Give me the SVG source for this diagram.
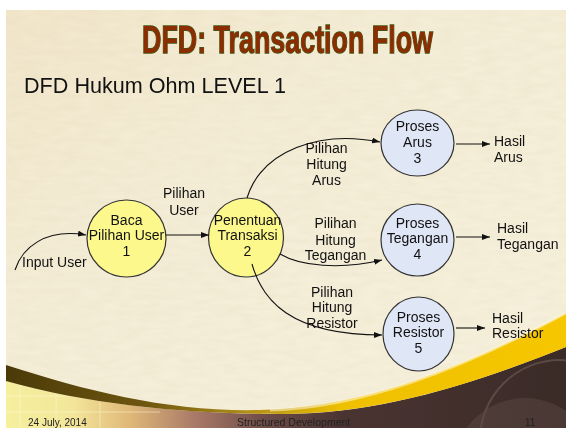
<svg xmlns="http://www.w3.org/2000/svg" width="566" height="428" viewBox="0 0 566 428">
  <defs>
    <style>
      text { font-family: "Liberation Sans", Arial, sans-serif; fill: #111; }
      .title { font-size: 39px; font-weight: bold; fill: #8b2d00; stroke: #3d5a18; stroke-width: 1.4px; paint-order: stroke; }
      .sub { font-size: 21.5px; }
      .lbl { font-size: 14px; text-anchor: middle; }
      .lbl-l { font-size: 14px; }
      .foot { font-size: 10px; fill: #222; }
      .proc-y { fill: #fdf88c; stroke: #333; stroke-width: 1.2; }
      .proc-b { fill: #dfe6f5; stroke: #333; stroke-width: 1.2; }
      .flow { fill: none; stroke: #111; stroke-width: 1.1; marker-end: url(#arrow); }
    </style>
    <marker id="arrow" markerUnits="userSpaceOnUse" markerWidth="9" markerHeight="7" refX="8" refY="3" orient="auto">
      <path d="M0,0 L8,3 L0,6 Z" fill="#111"/>
    </marker>
    <linearGradient id="paper" x1="0" y1="0" x2="1" y2="1">
      <stop offset="0" stop-color="#f3e8cd"/>
      <stop offset="0.35" stop-color="#f6efd9"/>
      <stop offset="1" stop-color="#f8f3e0"/>
    </linearGradient>
    <linearGradient id="base" x1="6" y1="0" x2="566" y2="0" gradientUnits="userSpaceOnUse">
      <stop offset="0" stop-color="#f5ef9e"/>
      <stop offset="0.12" stop-color="#f3e69a"/>
      <stop offset="0.22" stop-color="#e0b878"/>
      <stop offset="0.34" stop-color="#a87868"/>
      <stop offset="0.46" stop-color="#6e4c48"/>
      <stop offset="0.6" stop-color="#4a3432"/>
      <stop offset="1" stop-color="#3a2b27"/>
    </linearGradient>
    <linearGradient id="band" x1="6" y1="0" x2="566" y2="0" gradientUnits="userSpaceOnUse">
      <stop offset="0" stop-color="#4a3a08"/>
      <stop offset="0.25" stop-color="#6e5610"/>
      <stop offset="0.45" stop-color="#b89418"/>
      <stop offset="0.6" stop-color="#eec000"/>
      <stop offset="1" stop-color="#f6c600"/>
    </linearGradient>
    <filter id="grain" x="0" y="0" width="1" height="1">
      <feTurbulence type="fractalNoise" baseFrequency="0.05 0.18" numOctaves="2" seed="4"/>
      <feColorMatrix values="0 0 0 0 0.55  0 0 0 0 0.45  0 0 0 0 0.25  0 0 0 0.14 0"/>
    </filter>
    <clipPath id="baseClip">
      <path d="M6,381 C90,405 190,414 280,414 C380,414 470,385 566,347 L566,428 L6,428 Z"/>
    </clipPath>
  </defs>

  <!-- page and slide backdrop -->
  <rect width="566" height="428" fill="#ffffff"/>
  <rect x="6" y="10" width="560" height="418" fill="url(#paper)"/>
  <rect x="6" y="10" width="560" height="418" filter="url(#grain)"/>

  <!-- lower swoosh decoration -->
  <g id="footer-swoosh">
    <path d="M6,381 C90,405 190,414 280,414 C380,414 470,385 566,347 L566,428 L6,428 Z" fill="url(#base)"/>
    <g clip-path="url(#baseClip)" opacity="0.5">
      <path d="M20,380 V428 M56,390 V428 M100,400 V428 M6,396 H140 M6,412 H160" stroke="#fffbd8" stroke-width="1" fill="none"/>
      <circle cx="525" cy="470" r="72" fill="#6e5a54" opacity="0.6"/>
      <circle cx="560" cy="440" r="80" fill="none" stroke="#7a6660" stroke-width="2"/>
    </g>
    <path d="M6,365 C90,392 170,412 260,410 C360,408 460,370 566,313 L566,347 C470,385 380,414 280,414 C190,414 90,405 6,381 Z" fill="url(#band)"/>
    <path d="M270,410 C360,408 460,370 566,313" fill="none" stroke="#fff8d8" stroke-width="3" opacity="0.55"/>
  </g>

  <!-- headings -->
  <text class="title" x="142" y="53" textLength="291" lengthAdjust="spacingAndGlyphs">DFD: Transaction Flow</text>
  <text class="sub" x="24" y="93" textLength="262" lengthAdjust="spacingAndGlyphs">DFD Hukum Ohm LEVEL 1</text>

  <!-- processes -->
  <g id="p1">
    <ellipse class="proc-y" cx="126.5" cy="238.5" rx="39.5" ry="38.5"/>
    <text class="lbl" x="126.5" y="225">Baca</text>
    <text class="lbl" x="126.5" y="240">Pilihan User</text>
    <text class="lbl" x="126.5" y="256">1</text>
  </g>
  <g id="p2">
    <ellipse class="proc-y" cx="246" cy="237.5" rx="37.5" ry="39.5"/>
    <text class="lbl" x="247.5" y="225">Penentuan</text>
    <text class="lbl" x="247.5" y="240">Transaksi</text>
    <text class="lbl" x="247.5" y="256">2</text>
  </g>
  <g id="p3">
    <ellipse class="proc-b" cx="417.5" cy="143" rx="36.5" ry="33"/>
    <text class="lbl" x="417.5" y="131">Proses</text>
    <text class="lbl" x="417.5" y="147">Arus</text>
    <text class="lbl" x="417.5" y="163">3</text>
  </g>
  <g id="p4">
    <ellipse class="proc-b" cx="417.5" cy="240" rx="36.5" ry="36"/>
    <text class="lbl" x="417.5" y="228">Proses</text>
    <text class="lbl" x="417.5" y="243">Tegangan</text>
    <text class="lbl" x="417.5" y="259">4</text>
  </g>
  <g id="p5">
    <ellipse class="proc-b" cx="418.5" cy="334" rx="35.5" ry="37"/>
    <text class="lbl" x="418.5" y="322">Proses</text>
    <text class="lbl" x="418.5" y="337">Resistor</text>
    <text class="lbl" x="418.5" y="353">5</text>
  </g>

  <!-- data flows -->
  <g id="flows">
    <path class="flow" d="M15,270 C22,248 45,228 86,235"/>
    <path class="flow" d="M166,235 L209,235"/>
    <path class="flow" d="M247,198 C262,150 320,130 380,142"/>
    <path class="flow" d="M280,254 C300,266 340,270 382,260"/>
    <path class="flow" d="M252,264 C262,300 290,335 382,335"/>
    <path class="flow" d="M456,144 L490,144"/>
    <path class="flow" d="M456,237 L490,237"/>
    <path class="flow" d="M456,328 L485,328"/>
  </g>

  <!-- flow labels -->
  <g id="flow-labels">
    <text class="lbl-l" x="22" y="267">Input User</text>
    <text class="lbl" x="184" y="198">Pilihan</text>
    <text class="lbl" x="184" y="215">User</text>
    <text class="lbl" x="326.5" y="153">Pilihan</text>
    <text class="lbl" x="326.5" y="169">Hitung</text>
    <text class="lbl" x="326.5" y="185">Arus</text>
    <text class="lbl" x="335.5" y="228">Pilihan</text>
    <text class="lbl" x="335.5" y="245">Hitung</text>
    <text class="lbl" x="335.5" y="260">Tegangan</text>
    <text class="lbl" x="332" y="297">Pilihan</text>
    <text class="lbl" x="332" y="312">Hitung</text>
    <text class="lbl" x="332" y="328">Resistor</text>
    <text class="lbl-l" x="494" y="146">Hasil</text>
    <text class="lbl-l" x="494" y="162">Arus</text>
    <text class="lbl-l" x="497" y="233">Hasil</text>
    <text class="lbl-l" x="497" y="249">Tegangan</text>
    <text class="lbl-l" x="492" y="323">Hasil</text>
    <text class="lbl-l" x="492" y="338">Resistor</text>
  </g>

  <!-- slide footer -->
  <text class="foot" x="28" y="426">24 July, 2014</text>
  <text class="foot" x="237" y="426" style="font-size:10.5px">Structured Development</text>
  <text class="foot" x="525" y="426">11</text>
</svg>
